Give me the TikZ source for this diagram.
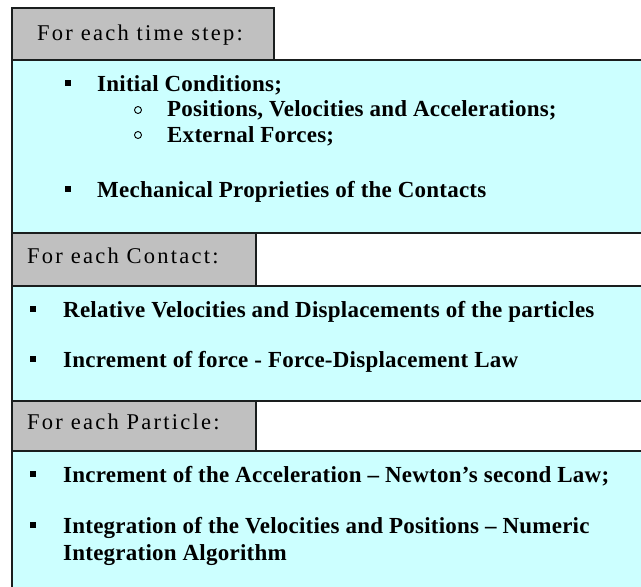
\documentclass[tikz,border=0pt]{standalone}
\usepackage{fontspec}
\setmainfont{Liberation Serif}
\newfontfamily\hdfont[LetterSpace=10]{Liberation Serif}
\newfontfamily\itmfont[LetterSpace=1]{Liberation Serif}
\definecolor{cyanbg}{HTML}{CCFFFF}
\definecolor{tabgrey}{HTML}{C0C0C0}
\definecolor{rulec}{HTML}{1A1E1E}
\tikzset{
  hd/.style={anchor=base west, inner sep=0pt, font=\hdfont\fontsize{22.5}{27}\selectfont},
  itm/.style={anchor=base west, inner sep=0pt, font=\itmfont\bfseries\fontsize{23}{27}\selectfont},
  bsq/.style={fill=black, draw=none, inner sep=0pt, minimum size=5.5pt, shape=rectangle},
  bci/.style={draw=black, line width=0.9pt, fill=none, inner sep=0pt, minimum size=7pt, shape=circle},
  rl/.style={draw=rulec, line width=2.2pt}
}
\begin{document}
\begin{tikzpicture}[x=1pt,y=-1pt]
\useasboundingbox (0,0) rectangle (641,587);
\fill[white] (0,0) rectangle (641,587);
% backgrounds
\fill[cyanbg] (12,60) rectangle (641,233);
\fill[cyanbg] (12,286) rectangle (641,401);
\fill[cyanbg] (12,451) rectangle (641,587);
\fill[tabgrey] (12,8) rectangle (274,60);
\fill[tabgrey] (12,233) rectangle (256,286);
\fill[tabgrey] (12,401) rectangle (256,451);
% rules
\draw[rl] (12,587) -- (12,8) -- (274,8) -- (274,60);
\draw[rl] (12,60) -- (641,60);
\draw[rl] (12,233) -- (641,233);
\draw[rl] (12,286) -- (641,286);
\draw[rl] (256,233) -- (256,286);
\draw[rl] (12,401) -- (641,401);
\draw[rl] (12,451) -- (641,451);
\draw[rl] (256,401) -- (256,451);
% headers
\node[hd] (t1) at (37,40) {For each time step:};
\node[hd] (t2) at (27,263) {For each Contact:};
\node[hd] (t3) at (27,429) {For each Particle:};
% items
\node[bsq] (b1) at (68,83) {};
\node[itm] (i1) at (97,91) {Initial Conditions;};
\node[bci] (c1) at (138,110) {};
\node[itm] (s1) at (167,116) {Positions, Velocities and Accelerations;};
\node[bci] (c2) at (138,135) {};
\node[itm] (s2) at (167,142) {External Forces;};
\node[bsq] (b2) at (68,189) {};
\node[itm] (i2) at (97,197) {Mechanical Proprieties of the Contacts};
\node[bsq] (b3) at (33,309) {};
\node[itm] (i3) at (63,317) {Relative Velocities and Displacements of the particles};
\node[bsq] (b4) at (33,359) {};
\node[itm] (i4) at (63,367) {Increment of force - Force-Displacement Law};
\node[bsq] (b5) at (33,474) {};
\node[itm] (i5) at (63,482) {Increment of the Acceleration – Newton’s second Law;};
\node[bsq] (b6) at (33,525) {};
\node[itm] (i6) at (63,533) {Integration of the Velocities and Positions – Numeric};
\node[itm] (i7) at (63,560) {Integration Algorithm};
\end{tikzpicture}
\end{document}
